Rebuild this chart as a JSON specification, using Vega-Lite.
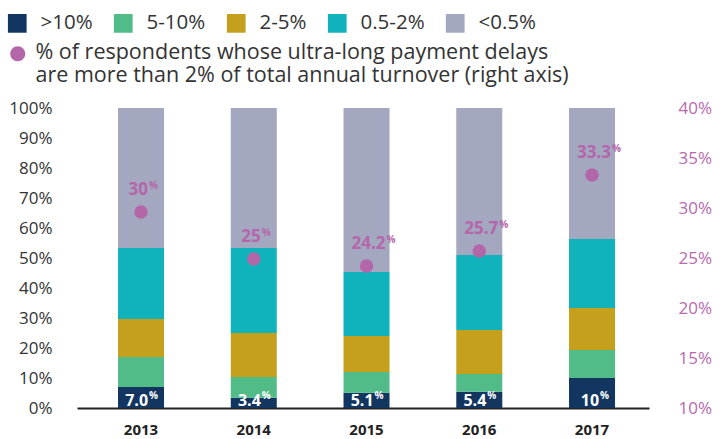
{
  "$schema": "https://vega.github.io/schema/vega-lite/v6.json",
  "width": 572,
  "height": 300,
  "autosize": {"type": "none"},
  "padding": {"left": 77, "top": 108, "right": 71, "bottom": 31},
  "background": "white",
  "config": {"view": {"stroke": null}, "font": "Open Sans"},
  "datasets": {
    "bands": [
      {"year": "2013", "band": ">10%", "value": 7.0},
      {"year": "2013", "band": "5-10%", "value": 10.0},
      {"year": "2013", "band": "2-5%", "value": 12.7},
      {"year": "2013", "band": "0.5-2%", "value": 23.6},
      {"year": "2013", "band": "<0.5%", "value": 46.7},
      {"year": "2014", "band": ">10%", "value": 3.4},
      {"year": "2014", "band": "5-10%", "value": 6.9},
      {"year": "2014", "band": "2-5%", "value": 14.7},
      {"year": "2014", "band": "0.5-2%", "value": 28.3},
      {"year": "2014", "band": "<0.5%", "value": 46.7},
      {"year": "2015", "band": ">10%", "value": 5.1},
      {"year": "2015", "band": "5-10%", "value": 6.9},
      {"year": "2015", "band": "2-5%", "value": 12.0},
      {"year": "2015", "band": "0.5-2%", "value": 21.3},
      {"year": "2015", "band": "<0.5%", "value": 54.7},
      {"year": "2016", "band": ">10%", "value": 5.4},
      {"year": "2016", "band": "5-10%", "value": 5.9},
      {"year": "2016", "band": "2-5%", "value": 14.7},
      {"year": "2016", "band": "0.5-2%", "value": 25.0},
      {"year": "2016", "band": "<0.5%", "value": 49.0},
      {"year": "2017", "band": ">10%", "value": 10.0},
      {"year": "2017", "band": "5-10%", "value": 9.3},
      {"year": "2017", "band": "2-5%", "value": 14.0},
      {"year": "2017", "band": "0.5-2%", "value": 23.0},
      {"year": "2017", "band": "<0.5%", "value": 43.7}
    ],
    "bottom": [
      {"year": "2013", "label": "7.0"},
      {"year": "2014", "label": "3.4"},
      {"year": "2015", "label": "5.1"},
      {"year": "2016", "label": "5.4"},
      {"year": "2017", "label": "10"}
    ],
    "rates": [
      {"year": "2013", "rate": 29.6, "label": "30"},
      {"year": "2014", "rate": 24.9, "label": "25"},
      {"year": "2015", "rate": 24.2, "label": "24.2"},
      {"year": "2016", "rate": 25.7, "label": "25.7"},
      {"year": "2017", "rate": 33.3, "label": "33.3"}
    ]
  },
  "layer": [
    {
      "layer": [
        {
          "data": {"name": "bands"},
          "mark": {"type": "bar"},
          "encoding": {
            "x": {
              "field": "year", "type": "nominal",
              "scale": {"paddingInner": 0.592, "paddingOuter": 0.3326, "align": 0.547},
              "axis": {"title": null, "labelAngle": 0, "labelFont": "Open Sans", "labelFontWeight": "bold", "labelFontSize": 15, "labelColor": "#222222", "ticks": false, "labelPadding": 14, "domainColor": "#222222", "domainWidth": 2}
            },
            "y": {
              "field": "value", "type": "quantitative", "stack": "zero",
              "scale": {"domain": [0, 100], "nice": false},
              "axis": {"title": null, "orient": "left", "values": [0, 10, 20, 30, 40, 50, 60, 70, 80, 90, 100], "labelExpr": "datum.value + '%'", "labelOverlap": false, "grid": false, "ticks": false, "domain": false, "labelPadding": 25, "labelFont": "Open Sans", "labelFontSize": 17, "labelColor": "#333333"}
            },
            "color": {
              "field": "band", "type": "nominal",
              "scale": {"domain": [">10%", "5-10%", "2-5%", "0.5-2%", "<0.5%"], "range": ["#12365f", "#51bc88", "#c4a01c", "#10b2bb", "#a3a7bf"]},
              "legend": {"orient": "none", "legendX": -70, "legendY": -95, "direction": "horizontal", "title": null, "padding": 0, "symbolType": "square", "symbolSize": 350, "symbolStrokeWidth": 0, "labelFont": "Open Sans", "labelFontSize": 20.5, "labelColor": "#333333", "labelOffset": 13, "columnPadding": 20}
            },
            "order": {"field": "year", "type": "nominal"}
          }
        },
        {
          "data": {"name": "bottom"},
          "mark": {"type": "text", "align": "right", "baseline": "middle", "dx": 7, "dy": -7, "font": "Open Sans", "fontWeight": "bold", "fontSize": 16, "color": "white"},
          "encoding": {
            "x": {"field": "year", "type": "nominal"},
            "y": {
              "datum": 0, "type": "quantitative",
              "axis": {"title": null, "orient": "left", "values": [0, 10, 20, 30, 40, 50, 60, 70, 80, 90, 100], "labelExpr": "datum.value + '%'", "labelOverlap": false, "grid": false, "ticks": false, "domain": false, "labelPadding": 25, "labelFont": "Open Sans", "labelFontSize": 17, "labelColor": "#333333"}
            },
            "text": {"field": "label", "type": "nominal"}
          }
        },
        {
          "data": {"name": "bottom"},
          "mark": {"type": "text", "text": "%", "align": "left", "baseline": "middle", "dx": 8, "dy": -12, "font": "Open Sans", "fontWeight": "bold", "fontSize": 10, "color": "white"},
          "encoding": {
            "x": {"field": "year", "type": "nominal"},
            "y": {
              "datum": 0, "type": "quantitative",
              "axis": {"title": null, "orient": "left", "values": [0, 10, 20, 30, 40, 50, 60, 70, 80, 90, 100], "labelExpr": "datum.value + '%'", "labelOverlap": false, "grid": false, "ticks": false, "domain": false, "labelPadding": 25, "labelFont": "Open Sans", "labelFontSize": 17, "labelColor": "#333333"}
            }
          }
        }
      ]
    },
    {
      "layer": [
        {
          "data": {"name": "rates"},
          "mark": {"type": "circle", "size": 180, "opacity": 1},
          "encoding": {
            "x": {"field": "year", "type": "nominal"},
            "y": {
              "field": "rate", "type": "quantitative",
              "scale": {"domain": [10, 40], "nice": false},
              "axis": {"title": null, "orient": "right", "values": [10, 15, 20, 25, 30, 35, 40], "labelExpr": "datum.value + '%'", "labelOverlap": false, "grid": false, "ticks": false, "domain": false, "labelPadding": 29, "labelFont": "Open Sans", "labelFontSize": 17, "labelColor": "#b86aad"}
            },
            "fill": {
              "datum": "pt",
              "scale": {"domain": ["pt"], "range": ["#b367a9"]},
              "legend": {"orient": "none", "legendX": -70, "legendY": -60, "title": null, "padding": 0, "symbolType": "M0,-1.667 A1,1 0 1,1 0,0.333 A1,1 0 1,1 0,-1.667 Z", "symbolSize": 225, "symbolStrokeWidth": 0, "labelFont": "Open Sans", "labelFontSize": 21.5, "labelColor": "#333333", "labelOffset": 7, "labelLimit": 0, "labelBaseline": "alphabetic", "labelExpr": "['% of respondents whose ultra-long payment delays', 'are more than 2% of total annual turnover (right axis)']"}
            }
          }
        },
        {
          "data": {"name": "rates"},
          "transform": [{"filter": "length(datum.label) < 3"}],
          "mark": {"type": "text", "align": "right", "baseline": "middle", "dx": 7, "dy": -22, "font": "Open Sans", "fontWeight": "bold", "fontSize": 17, "color": "#b566aa"},
          "encoding": {
            "x": {"field": "year", "type": "nominal"},
            "y": {"field": "rate", "type": "quantitative"},
            "text": {"field": "label", "type": "nominal"}
          }
        },
        {
          "data": {"name": "rates"},
          "transform": [{"filter": "length(datum.label) < 3"}],
          "mark": {"type": "text", "text": "%", "align": "left", "baseline": "middle", "dx": 8, "dy": -26, "font": "Open Sans", "fontWeight": "bold", "fontSize": 10, "color": "#b566aa"},
          "encoding": {
            "x": {"field": "year", "type": "nominal"},
            "y": {"field": "rate", "type": "quantitative"}
          }
        },
        {
          "data": {"name": "rates"},
          "transform": [{"filter": "length(datum.label) >= 3"}],
          "mark": {"type": "text", "align": "right", "baseline": "middle", "dx": 19, "dy": -22, "font": "Open Sans", "fontWeight": "bold", "fontSize": 17, "color": "#b566aa"},
          "encoding": {
            "x": {"field": "year", "type": "nominal"},
            "y": {"field": "rate", "type": "quantitative"},
            "text": {"field": "label", "type": "nominal"}
          }
        },
        {
          "data": {"name": "rates"},
          "transform": [{"filter": "length(datum.label) >= 3"}],
          "mark": {"type": "text", "text": "%", "align": "left", "baseline": "middle", "dx": 20, "dy": -26, "font": "Open Sans", "fontWeight": "bold", "fontSize": 10, "color": "#b566aa"},
          "encoding": {
            "x": {"field": "year", "type": "nominal"},
            "y": {"field": "rate", "type": "quantitative"}
          }
        }
      ]
    }
  ],
  "resolve": {"scale": {"y": "independent"}}
}
